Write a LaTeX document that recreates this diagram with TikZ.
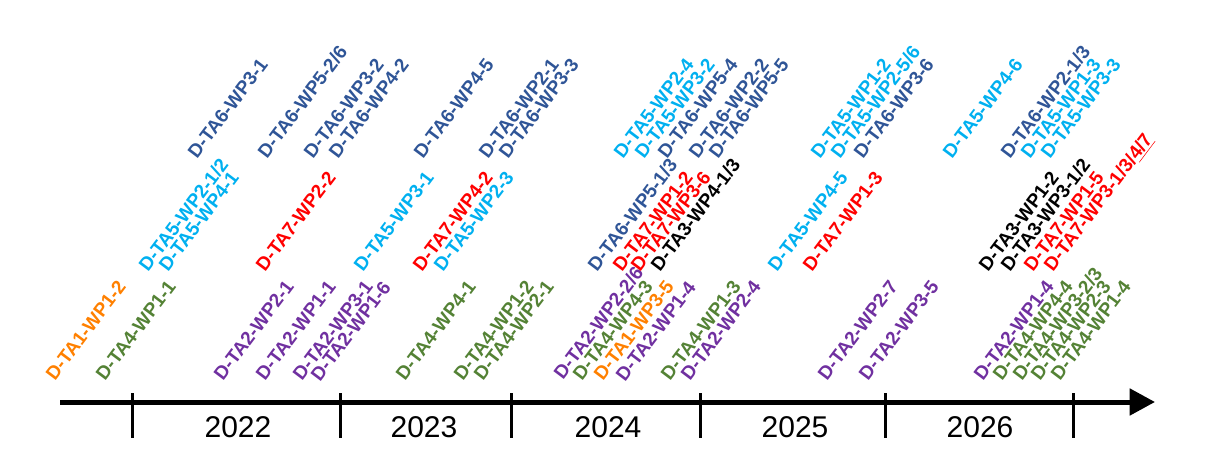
\documentclass[tikz,border=0pt]{standalone}
\usepackage{fontspec}
\setmainfont{Liberation Sans}
\usetikzlibrary{arrows.meta}

\definecolor{taorange}{RGB}{255,128,0}
\definecolor{tagreen}{RGB}{84,130,53}
\definecolor{tapurple}{RGB}{112,48,160}
\definecolor{tacyan}{RGB}{0,176,240}
\definecolor{tablue}{RGB}{47,85,151}
\definecolor{tared}{RGB}{255,0,0}

\tikzset{
    deliv/.style={rotate=53, anchor=base west, inner sep=0pt,
        font=\bfseries\fontsize{14.25}{17}\selectfont},
    yearlbl/.style={inner sep=0pt, font=\fontsize{22.5}{27}\selectfont},
    tickline/.style={line width=2.25pt},
}

\begin{document}
\begin{tikzpicture}[x=0.75pt,y=-0.75pt]
    \useasboundingbox (0,0) rectangle (1212,449);

    % Zeitachse
    \coordinate (ax0) at (60,402);
    \coordinate (ax1) at (1155,402);
    \draw[line width=3.75pt,-{Triangle[length=19pt,width=19.5pt]}] (ax0) -- (ax1);
    \foreach \x in {132,340,511,700,885,1073} {
        \draw[tickline] (\x,393) -- (\x,438);
    }

    % Jahre
    \node[yearlbl] (y22) at (238,427) {2022};
    \node[yearlbl] (y23) at (424,427) {2023};
    \node[yearlbl] (y24) at (608,427) {2024};
    \node[yearlbl] (y25) at (795,427) {2025};
    \node[yearlbl] (y26) at (980,427) {2026};

    % untere Reihe
    \node[deliv,text=taorange] (b1) at (55,382) {D-TA1-WP1-2};
    \node[deliv,text=tagreen] (b2) at (105,382) {D-TA4-WP1-1};
    \node[deliv,text=tapurple] (b3) at (223,382) {D-TA2-WP2-1};
    \node[deliv,text=tapurple] (b4) at (265,382) {D-TA2-WP1-1};
    \node[deliv,text=tapurple] (b5) at (302,382) {D-TA2-WP3-1};
    \node[deliv,text=tapurple] (b6) at (320,383) {D-TA2-WP1-6};
    \node[deliv,text=tagreen] (b7) at (405,382) {D-TA4-WP4-1};
    \node[deliv,text=tagreen] (b8) at (463,382) {D-TA4-WP1-2};
    \node[deliv,text=tagreen] (b9) at (483,382) {D-TA4-WP2-1};
    \node[deliv,text=tapurple] (b10) at (563,381) {D-TA2-WP2-2/6};
    \node[deliv,text=tagreen] (b11) at (582,382) {D-TA4-WP4-3};
    \node[deliv,text=taorange] (b12) at (603,382) {D-TA1-WP3-5};
    \node[deliv,text=tapurple] (b13) at (625,383) {D-TA2-WP1-4};
    \node[deliv,text=tagreen] (b14) at (670,382) {D-TA4-WP1-3};
    \node[deliv,text=tapurple] (b15) at (690,382) {D-TA2-WP2-4};
    \node[deliv,text=tapurple] (b16) at (827,382) {D-TA2-WP2-7};
    \node[deliv,text=tapurple] (b17) at (868,382) {D-TA2-WP3-5};
    \node[deliv,text=tapurple] (b18) at (983,382) {D-TA2-WP1-4};
    \node[deliv,text=tagreen] (b19) at (1002,382) {D-TA4-WP4-4};
    \node[deliv,text=tagreen] (b20) at (1022,382) {D-TA4-WP3-2/3};
    \node[deliv,text=tagreen] (b21) at (1040,382) {D-TA4-WP2-3};
    \node[deliv,text=tagreen] (b22) at (1060,382) {D-TA4-WP1-4};

    % mittlere Reihe
    \node[deliv,text=tacyan] (m1) at (148,273) {D-TA5-WP2-1/2};
    \node[deliv,text=tacyan] (m2) at (168,273) {D-TA5-WP4-1};
    \node[deliv,text=tared] (m3) at (265,273) {D-TA7-WP2-2};
    \node[deliv,text=tacyan] (m4) at (363,273) {D-TA5-WP3-1};
    \node[deliv,text=tared] (m5) at (422,273) {D-TA7-WP4-2};
    \node[deliv,text=tacyan] (m6) at (443,273) {D-TA5-WP2-3};
    \node[deliv,text=tablue] (m7) at (597,273) {D-TA6-WP5-1/3};
    \node[deliv,text=tared] (m8) at (622,273) {D-TA7-WP1-2};
    \node[deliv,text=tared] (m9) at (640,273) {D-TA7-WP3-6};
    \node[deliv,text=black] (m10) at (660,273) {D-TA3-WP4-1/3};
    \node[deliv,text=tacyan] (m11) at (777,273) {D-TA5-WP4-5};
    \node[deliv,text=tared] (m12) at (812,273) {D-TA7-WP1-3};
    \node[deliv,text=black] (m13) at (988,273) {D-TA3-WP1-2};
    \node[deliv,text=black] (m14) at (1010,273) {D-TA3-WP3-1/2};
    \node[deliv,text=tared] (m15) at (1033,273) {D-TA7-WP1-5};
    \node[deliv,text=tared] (m16) at (1053,273) {D-TA7-WP3-1/3/\underline{4/7}};

    % obere Reihe
    \node[deliv,text=tablue] (t1) at (197,160) {D-TA6-WP3-1};
    \node[deliv,text=tablue] (t2) at (267,160) {D-TA6-WP5-2/6};
    \node[deliv,text=tablue] (t3) at (313,160) {D-TA6-WP3-2};
    \node[deliv,text=tablue] (t4) at (338,160) {D-TA6-WP4-2};
    \node[deliv,text=tablue] (t5) at (423,160) {D-TA6-WP4-5};
    \node[deliv,text=tablue] (t6) at (488,160) {D-TA6-WP2-1};
    \node[deliv,text=tablue] (t7) at (508,160) {D-TA6-WP3-3};
    \node[deliv,text=tacyan] (t8) at (623,160) {D-TA5-WP2-4};
    \node[deliv,text=tacyan] (t9) at (644,160) {D-TA5-WP3-2};
    \node[deliv,text=tablue] (t10) at (667,160) {D-TA6-WP5-4};
    \node[deliv,text=tablue] (t11) at (698,160) {D-TA6-WP2-2};
    \node[deliv,text=tablue] (t12) at (718,160) {D-TA6-WP5-5};
    \node[deliv,text=tacyan] (t13) at (820,160) {D-TA5-WP1-2};
    \node[deliv,text=tacyan] (t14) at (840,160) {D-TA5-WP2-5/6};
    \node[deliv,text=tablue] (t15) at (863,160) {D-TA6-WP3-6};
    \node[deliv,text=tacyan] (t16) at (952,160) {D-TA5-WP4-6};
    \node[deliv,text=tablue] (t17) at (1010,160) {D-TA6-WP2-1/3};
    \node[deliv,text=tacyan] (t18) at (1030,160) {D-TA5-WP1-3};
    \node[deliv,text=tacyan] (t19) at (1050,160) {D-TA5-WP3-3};

\end{tikzpicture}
\end{document}
